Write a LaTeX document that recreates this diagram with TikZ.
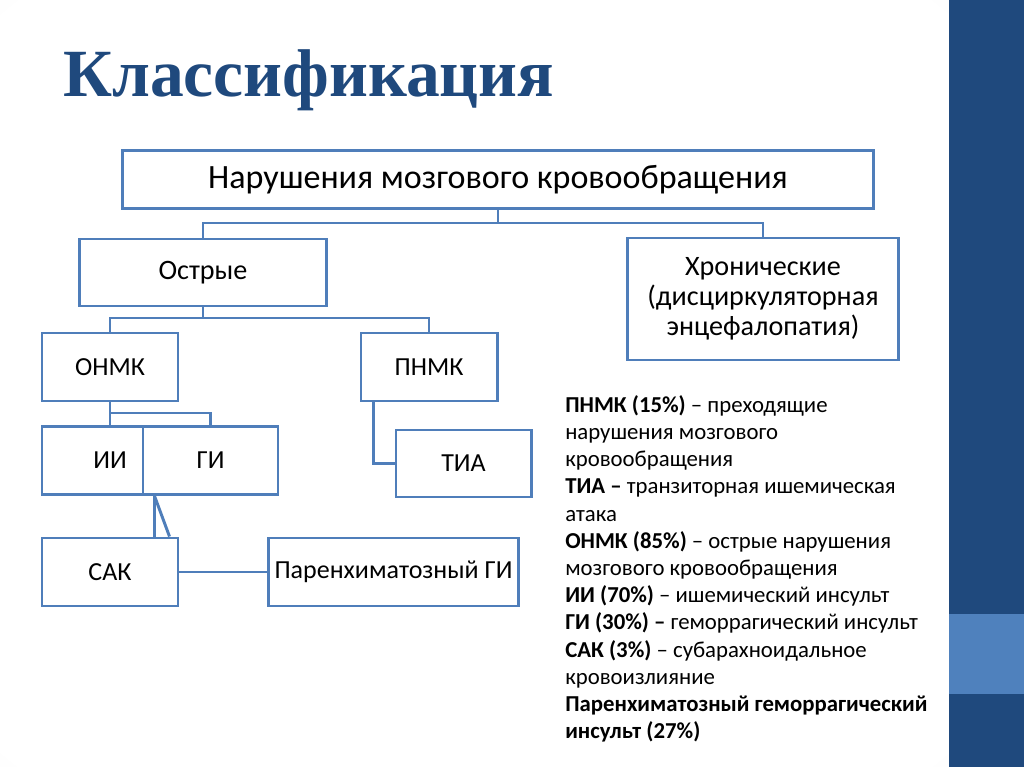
\documentclass[tikz,border=0pt]{standalone}
\usepackage{fontspec}
\setmainfont{Carlito}
\newfontfamily\titlefont{Liberation Serif}
\usepackage{tikz}
\usetikzlibrary{positioning}
\definecolor{boxblue}{RGB}{79, 126, 186}
\definecolor{darkblue}{RGB}{31, 73, 125}
\definecolor{barlight}{RGB}{79, 129, 189}
\pgfdeclareradialshading{vignette}{\pgfpoint{0bp}{0bp}}{color(0bp)=(white); color(34bp)=(white); color(50bp)=(gray!9); color(72bp)=(gray!24)}

\begin{document}
\begin{tikzpicture}[
    x=0.025cm, y=-0.025cm,
    every node/.style={font=\fontsize{18.5}{21}\selectfont},
    box/.style={rectangle, draw=boxblue, fill=white, line width=2.1pt, inner sep=0pt, minimum width=3.4cm, minimum height=1.7cm, align=center},
    bigbox/.style={box, font=\fontsize{20}{21.5}\selectfont},
    link/.style={draw=boxblue, line width=2.1pt},
    notes/.style={inner sep=0pt, align=left, font=\fontsize{16.2}{19.35}\selectfont}
]
    \useasboundingbox (0,0) rectangle (1024,767);
    \shade[shading=vignette] (0,0) rectangle (949,767);
    \fill[darkblue] (949,0) rectangle (1024,767);
    \fill[barlight] (949,614) rectangle (1024,694);

    \node (title) [anchor=base west, text=darkblue, font=\titlefont\bfseries\fontsize{48}{50}\selectfont, inner sep=0pt] at (63,97) {Классификация};

    \node (nmk) [box, minimum width=18.75cm, minimum height=1.45cm, font=\fontsize{24.2}{26}\selectfont] at (498,179.5) {Нарушения мозгового кровообращения};
    \node (ostrye) [bigbox, minimum width=6.15cm, minimum height=1.675cm] at (203,272.5) {Острые};
    \node (hron) [bigbox, minimum width=6.75cm, minimum height=3.05cm] at (763,299) {Хронические\\(дисциркуляторная\\энцефалопатия)};
    \node (onmk) [box] at (110,367) {ОНМК};
    \node (pnmk) [box] at (429,367) {ПНМК};
    \node (ii) [box] at (110,460.5) {ИИ};
    \node (gi) [box, minimum width=3.375cm] at (210.5,460.5) {ГИ};
    \node (tia) [box, minimum width=3.375cm, minimum height=1.675cm] at (463.5,463.5) {ТИА};
    \node (sak) [box] at (110,572) {САК};
    \node (paren) [box, minimum width=6.225cm] at (393.5,572) {Паренхиматозный ГИ};

    \coordinate (j1) at (498,223);
    \coordinate (j2) at (203,318);
    \coordinate (j3) at (110,413);

    \draw [link] (nmk.south) -- (j1);
    \draw [link] (ostrye.north) |- (j1) -| (hron.north);
    \draw [link] (ostrye.south) -- (j2);
    \draw [link] (onmk.north) |- (j2) -| (pnmk.north);
    \draw [link] (onmk.south) -- (ii.north);
    \draw [link] (j3) -| (gi.north);
    \draw [link] ([xshift=0.35cm]pnmk.south west) |- (tia.west);
    \draw [link] ([xshift=0.325cm]gi.south west) -- ([xshift=0.325cm]gi.south west |- sak.north);
    \draw [link] ([xshift=0.325cm]gi.south west) -- ([xshift=-0.25cm]sak.north east);
    \draw [link] (sak.east) -- (paren.west);

    \node (legend) [notes, anchor=north west] at (565,395) {%
        \textbf{ПНМК (15\%)} – преходящие\\
        нарушения мозгового\\
        кровообращения\\
        \textbf{ТИА –} транзиторная ишемическая\\
        атака\\
        \textbf{ОНМК (85\%)} – острые нарушения\\
        мозгового кровообращения\\
        \textbf{ИИ (70\%)} – ишемический инсульт\\
        \textbf{ГИ (30\%) –} геморрагический инсульт\\
        \textbf{САК (3\%)} – субарахноидальное\\
        кровоизлияние\\
        \textbf{Паренхиматозный геморрагический}\\
        \textbf{инсульт (27\%)}};
\end{tikzpicture}
\end{document}
